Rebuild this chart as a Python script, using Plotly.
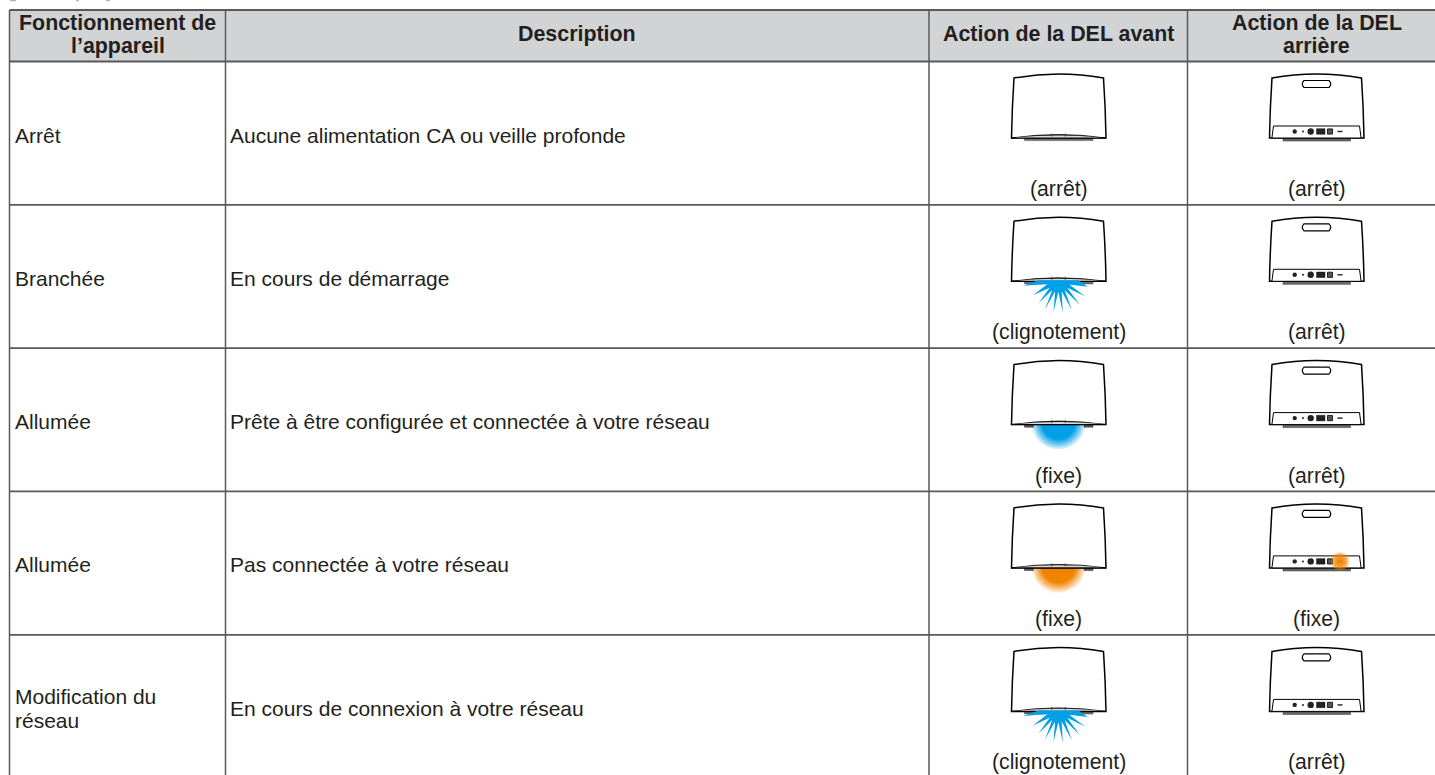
import plotly.graph_objects as go
import math

W, H = 1435, 775
INK = "#231f20"
RULE = "#58595b"
HEAD = "#d1d3d4"
BLUE = "#00a0e9"
ORANGE = "#f08300"

headers = ["Fonctionnement de<br>l’appareil", "Description", "Action de la DEL avant", "Action de la DEL<br>arrière"]
operations = ["Arrêt", "Branchée", "Allumée", "Allumée", "Modification du<br>réseau"]
descriptions = [
    "Aucune alimentation CA ou veille profonde",
    "En cours de démarrage",
    "Prête à être configurée et connectée à votre réseau",
    "Pas connectée à votre réseau",
    "En cours de connexion à votre réseau",
]
front_captions = ["(arrêt)", "(clignotement)", "(fixe)", "(fixe)", "(clignotement)"]
rear_captions = ["(arrêt)", "(arrêt)", "(arrêt)", "(fixe)", "(arrêt)"]
front_led = ["off", "blink", "blue", "orange", "blink"]
rear_led = ["off", "off", "off", "orange", "off"]

col_edges = [9.5, 225.5, 929, 1187.5, 1437]
row_edges = [10, 61.5, 204.8, 348.1, 491.4, 634.9, 778]

shapes, annots = [], []

def line(x0, y0, x1, y1, w=1.6, c=RULE):
    shapes.append(dict(type="line", x0=x0, y0=y0, x1=x1, y1=y1, xref="x", yref="y", line=dict(color=c, width=w)))

def path(d, fill=None, w=1.2, c="#000000", op=None):
    s = dict(type="path", path=d, xref="x", yref="y", line=dict(color=c, width=w))
    if w == 0:
        s["line"] = dict(width=0)
    if fill:
        s["fillcolor"] = fill
    if op is not None:
        s["opacity"] = op
    shapes.append(s)

def text(x, y, t, size=21, bold=False, anchor="center", gap=23.5):
    rows = t.split("<br>")
    for k, r in enumerate(rows):
        yy = y + (k - (len(rows) - 1) / 2) * gap
        annots.append(dict(x=x, y=yy, xref="x", yref="y", text=f"<b>{r}</b>" if bold else r, showarrow=False,
                           xanchor=anchor, yanchor="middle", align=anchor,
                           font=dict(family="Liberation Sans", size=size, color=INK)))

def body(cx, top):
    """outline shared by both speaker views; top is the y of the top arc"""
    return (f"M{cx-44.5},{top+4} Q{cx},{top-4} {cx+45},{top+4} "
            f"Q{cx+47},{top+34} {cx+47.5},{top+64} L{cx-47},{top+64} Q{cx-46.5},{top+34} {cx-44.5},{top+4} Z")

def front(cx, top, foot=True):
    if foot:
        path(f"M{cx-34},{top+64} L{cx-34},{top+66.6} L{cx+34.5},{top+66.6} L{cx+34.5},{top+64} Z", fill="#6d6e71", w=0.6, c="#58595b")
    else:
        for a, b in ((-34, -25), (25.5, 34.5)):
            path(f"M{cx+a},{top+64} L{cx+a},{top+66.6} L{cx+b},{top+66.6} L{cx+b},{top+64} Z", fill="#58595b", w=0.6, c="#414042")
    path(body(cx, top), fill="#ffffff", w=1.5)
    path(f"M{cx-47},{top+64} Q{cx},{top+57} {cx+47.5},{top+64} Z", fill="#1a1a1a", w=0.8)
    path(f"M{cx-43},{top+63.4} Q{cx},{top+59.4} {cx+43},{top+63.4} Z", fill="#d9d9da", w=0)
    for dx in (-6.7, 6.7):
        line(cx + dx, top + 59.5, cx + dx, top + 62.5, 0.8, "#333333")

def rear(cx, top):
    path(f"M{cx-33.5},{top+65} L{cx-33.5},{top+67} L{cx+34},{top+67} L{cx+34},{top+65} Z", fill="#6d6e71", w=0.6, c="#414042")
    path(body(cx, top), fill="#ffffff", w=1.5)
    path(f"M{cx-12.5},{top+6.5} L{cx+12.5},{top+6.5} Q{cx+16},{top+10} {cx+12.5},{top+13.5} L{cx-12.5},{top+13.5} Q{cx-16},{top+10} {cx-12.5},{top+6.5} Z", fill="#ffffff", w=1.2)
    path(f"M{cx-43},{top+52} L{cx+43},{top+52} L{cx+44.6},{top+64} L{cx-44.6},{top+64} Z", fill="#ffffff", w=1.0)
    y = top + 57.5
    for dx, r in ((-21.8, 2.2), (-13.5, 1.0), (-5.8, 3.2)):
        shapes.append(dict(type="circle", x0=cx+dx-r, x1=cx+dx+r, y0=y-r, y1=y+r, xref="x", yref="y",
                           fillcolor="#222222", line=dict(width=0)))
    path(f"M{cx},{y-2.8} L{cx+8.5},{y-2.8} L{cx+8.5},{y+2.8} L{cx},{y+2.8} Z", fill="#222222", w=0.4)
    path(f"M{cx+11},{y-2.6} L{cx+16},{y-2.6} L{cx+16},{y+2.6} L{cx+11},{y+2.6} Z", fill="#555555", w=0.8)
    line(cx + 21, y, cx + 26, y, 1.4, "#222222")

def arc_poly(cx, cy, r, ybot):
    pts = []
    for i in range(0, 41):
        a = math.pi * i / 40
        px, py = cx + r * math.cos(a), cy + r * math.sin(a)
        pts.append((px, min(py, ybot)))
    return "M" + " L".join(f"{a:.2f},{b:.2f}" for a, b in pts) + " Z"

def mix(col, t):
    r, g, b = int(col[1:3], 16), int(col[3:5], 16), int(col[5:7], 16)
    return "#%02x%02x%02x" % tuple(round(255 + (v - 255) * t) for v in (r, g, b))

def glow(cx, top, col):
    cy = top + 62
    steps = 10
    for i in range(steps, -1, -1):
        r = 17 + 10 * i / steps
        path(arc_poly(cx, cy, r, top + 88.5), fill=mix(col, (1 - i / (steps + 1)) ** 0.9), w=0)

def glow_small(cx, cy, col):
    for i in range(8, -1, -1):
        r = 3 + 6.5 * i / 8
        shapes.append(dict(type="circle", x0=cx-r, x1=cx+r, y0=cy-r, y1=cy+r, xref="x", yref="y",
                           fillcolor=col, opacity=0.22, line=dict(width=0)))

star_tips = [(-35, 5.5), (-25.5, 15), (-20, 23), (-13.5, 29), (-5, 31.5), (4.3, 32.2), (13.5, 30), (21, 24.3), (26.5, 16), (29, 6.5)]

def star(cx, top):
    cy = top + 62
    pts = [(-20, 0)]
    for i, (tx, ty) in enumerate(star_tips):
        pts.append((tx, ty))
        if i < len(star_tips) - 1:
            nx, ny = star_tips[i + 1]
            mx, my = (tx + nx) / 2, (ty + ny) / 2
            n = math.hypot(mx, my)
            pts.append((mx / n * 11.5, my / n * 11.5))
    pts.append((20, 0))
    path("M" + " L".join(f"{cx+a:.2f},{cy+b:.2f}" for a, b in pts) + " Z", fill=BLUE, w=0)

# header band and rules
shapes.append(dict(type="rect", x0=col_edges[0], x1=col_edges[-1], y0=row_edges[0], y1=row_edges[1],
                   xref="x", yref="y", fillcolor=HEAD, line=dict(width=0), layer="below"))
for y in row_edges[:-1]:
    line(col_edges[0], y, col_edges[-1], y, 1.8)
for x in col_edges[:-1]:
    line(x, row_edges[0], x, H + 2, 1.5)
# cut-off descenders at the very top of the page
for a, b in ((10, 16), (76, 79), (106, 110)):
    line(a, 0.5, b, 0.5, 1.5, "#b5b5b5")

FRONT_X, REAR_X = 1058.5, 1316.5
for i, h in enumerate(headers):
    cx = (col_edges[i] + min(col_edges[i + 1], 1435)) / 2
    if i == 0:
        cx = 117.5
    if i == 3:
        cx = 1316.5
    text(cx, 34, h, size=21.4, bold=True, gap=23)

for i in range(5):
    y0, y1 = row_edges[i + 1], row_edges[i + 2]
    mid = y0 + 73.5
    text(13, mid, operations[i], anchor="left", gap=24)
    text(228, mid, descriptions[i], anchor="left")
    top = y0 + 12.5
    if front_led[i] == "blink":
        front(FRONT_X, top)
        star(FRONT_X, top + 1)
    elif front_led[i] in ("blue", "orange"):
        glow(FRONT_X, top, BLUE if front_led[i] == "blue" else ORANGE)
        front(FRONT_X, top, foot=False)
    else:
        front(FRONT_X, top)
    rear(REAR_X, top)
    if rear_led[i] == "orange":
        glow_small(REAR_X + 23.5, top + 57.5, ORANGE)
    text(FRONT_X, y0 + 127.5, front_captions[i], size=21.2)
    text(REAR_X, y0 + 127.5, rear_captions[i], size=21.2)

fig = go.Figure()
fig.update_layout(
    width=W, height=H, margin=dict(l=0, r=0, t=0, b=0),
    paper_bgcolor="#ffffff", plot_bgcolor="#ffffff", showlegend=False,
    xaxis=dict(range=[0, W], visible=False, fixedrange=True),
    yaxis=dict(range=[H, 0], visible=False, fixedrange=True),
    shapes=shapes, annotations=annots,
)
fig.write_html("out.html", config=dict(displayModeBar=False), post_script="document.body.style.margin='0';")
